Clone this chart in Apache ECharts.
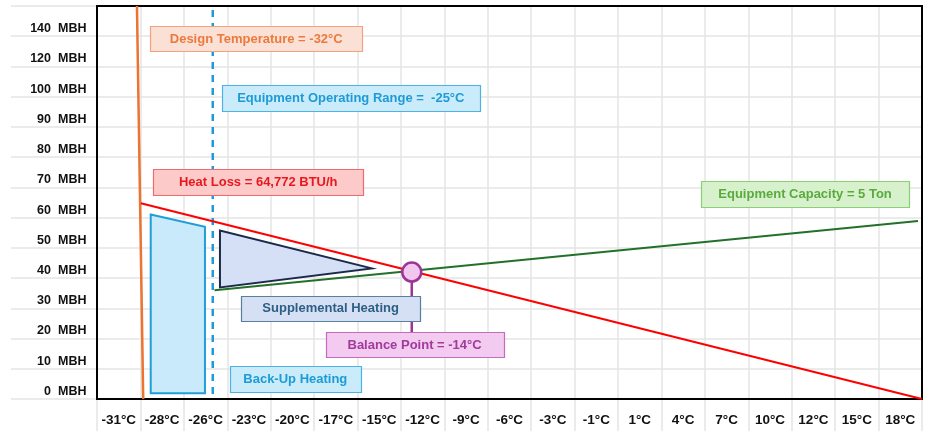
<!DOCTYPE html>
<html><head><meta charset="utf-8">
<script src="https://cdn.jsdelivr.net/npm/echarts@6/dist/echarts.min.js"></script>
<style>html,body{margin:0;padding:0;background:#fff}#c{width:930px;height:431px}</style>
</head><body><div id="c"></div>
<script>
// ---- data ----
const xLabels = ['-31°C','-28°C','-26°C','-23°C','-20°C','-17°C','-15°C','-12°C','-9°C','-6°C','-3°C','-1°C','1°C','4°C','7°C','10°C','12°C','15°C','18°C'];
const yTickNumbers = ['0','10','20','30','40','50','60','70','80','90','100','120','140'];
const yUnit = 'MBH';
const xRange = [-33.056, 19.722];   // temperature span (°C) of the 19 columns
const yRange = [0, 130];            // MBH, one row per 10
const designTempLine = [[-30.5, 130], [-30.1, 0]];
const operatingRangeLine = [[-25.65, 128.7], [-25.65, 0]];
const heatLossLine = [[-30.25, 64.77], [19.72, 0]];
const capacityLine = [[-25.54, 35.96], [19.47, 58.9]];
const backupArea = [[-29.62, 61.0], [-26.15, 57.0], [-26.15, 1.9], [-29.62, 1.9]];
const supplementalArea = [[-25.19, 55.7], [-25.19, 36.9], [-15.48, 43.2]];
const balancePoint = [-12.92, 42.0];
const balancePin = [[-12.92, 42.0], [-12.92, 22.1]];
const annotations = [
  {key: 'design', text: 'Design Temperature = -32°C', x: -22.87, y: 119.1},
  {key: 'range', text: 'Equipment Operating Range =  -25°C', x: -16.82, y: 99.6},
  {key: 'heatLoss', text: 'Heat Loss = 64,772 BTU/h', x: -22.74, y: 71.7},
  {key: 'capacity', text: 'Equipment Capacity = 5 Ton', x: 12.24, y: 67.9},
  {key: 'supplemental', text: 'Supplemental Heating', x: -18.11, y: 30.0},
  {key: 'balance', text: 'Balance Point = -14°C', x: -12.74, y: 17.9},
  {key: 'backup', text: 'Back-Up Heating', x: -20.37, y: 6.7}
];

// ---- styles ----
const FONT = 'Arial, "Liberation Sans", sans-serif';
const annStyles = {
  design: {w: 212, h: 25, bg: '#fbe0d6', border: '#f2a27e', color: '#ec7a3c'},
  range: {w: 258, h: 26, bg: '#c9ebfa', border: '#4db3e6', color: '#1e9bd7'},
  heatLoss: {w: 210, h: 26, bg: '#fdcaca', border: '#f06a6a', color: '#e8191e'},
  capacity: {w: 208, h: 26, bg: '#d7f1cd', border: '#8bce78', color: '#5aaa3e'},
  supplemental: {w: 179, h: 25, bg: '#d5e0f5', border: '#5a7f9c', color: '#2d5e84'},
  balance: {w: 178, h: 25, bg: '#f3caf0', border: '#c56bbc', color: '#a13a9b'},
  backup: {w: 131, h: 26, bg: '#c9ebfa', border: '#4db3e6', color: '#1e9bd7'}
};
const GRIDLINE = {show: true, lineStyle: {color: '#e5e5e5', width: 1.5}};
const YLABEL = {fontSize: 12.5, fontWeight: 'bold', color: '#111', fontFamily: FONT, verticalAlign: 'bottom', lineHeight: 15};

function polygonSeries(points, fill, stroke, z) {
  return {
    type: 'custom', xAxisIndex: 1, yAxisIndex: 0, z: z, silent: true,
    data: points,
    renderItem: (params, api) => {
      if (params.dataIndex !== 0) return null;
      return {type: 'polygon', shape: {points: points.map(p => api.coord(p))},
        style: {fill: fill, stroke: stroke, lineWidth: 2}};
    }
  };
}
function lineSeries(data, color, width, type, z) {
  return {type: 'line', xAxisIndex: 1, yAxisIndex: 0, data: data, symbol: 'none', z: z,
    lineStyle: {color: color, width: width, type: type || 'solid'}, silent: true};
}
function tickText(v, unit) {
  const i = Math.round(v / 10);
  if (i >= yTickNumbers.length) return '';
  return unit ? yUnit : yTickNumbers[i];
}

const chart = echarts.init(document.getElementById('c'), null, {renderer: 'canvas'});
chart.setOption({
  animation: false,
  backgroundColor: '#fff',
  grid: [
    {left: 97, right: 8, top: 6, bottom: 32, show: true, borderColor: '#000', borderWidth: 2, backgroundColor: 'transparent', z: 3},
    {left: 11, right: 8, top: 6, bottom: 32},
    {left: 97, right: 8, top: 6, bottom: 0}
  ],
  xAxis: [
    {type: 'category', gridIndex: 0, data: xLabels, boundaryGap: true,
      axisLine: {show: false}, axisTick: {show: false}, splitLine: {show: false},
      axisLabel: {interval: 0, margin: 14, color: '#111', fontWeight: 'bold', fontSize: 13.5, fontFamily: FONT}},
    {type: 'value', gridIndex: 0, min: xRange[0], max: xRange[1], show: false},
    {type: 'value', gridIndex: 1, show: false, min: 0, max: 1},
    {type: 'category', gridIndex: 2, data: xLabels, boundaryGap: true,
      axisLine: {show: false}, axisTick: {show: false}, axisLabel: {show: false},
      splitLine: Object.assign({interval: 0}, GRIDLINE)}
  ],
  yAxis: [
    {type: 'value', gridIndex: 0, min: yRange[0], max: yRange[1], interval: 10, position: 'left',
      axisLine: {show: false}, axisTick: {show: false}, splitLine: {show: false},
      axisLabel: Object.assign({margin: 46, align: 'right', formatter: v => tickText(v, false)}, YLABEL)},
    {type: 'value', gridIndex: 0, min: yRange[0], max: yRange[1], interval: 10, position: 'left',
      axisLine: {show: false}, axisTick: {show: false}, splitLine: {show: false},
      axisLabel: Object.assign({margin: 39, align: 'left', formatter: v => tickText(v, true)}, YLABEL)},
    {type: 'value', gridIndex: 1, min: yRange[0], max: yRange[1], interval: 10,
      axisLine: {show: false}, axisTick: {show: false}, axisLabel: {show: false}, splitLine: GRIDLINE},
    {type: 'value', gridIndex: 2, show: false, min: 0, max: 1}
  ],
  series: [
    polygonSeries(backupArea, '#c8eafa', '#1f9ed8', 4),
    polygonSeries(supplementalArea, '#d5dff5', '#1b2a48', 4),
    lineSeries(designTempLine, '#ec7330', 2.5, 'solid', 5),
    lineSeries(operatingRangeLine, '#1e9ad6', 2.5, [7, 6], 5),
    lineSeries(heatLossLine, '#ff0000', 2, 'solid', 6),
    lineSeries(capacityLine, '#23702a', 2, 'solid', 6),
    lineSeries(balancePin, '#9c3596', 2.5, 'solid', 6),
    {type: 'scatter', xAxisIndex: 1, yAxisIndex: 0, data: [balancePoint], symbol: 'circle', symbolSize: 19, z: 7, silent: true,
      itemStyle: {color: '#f1c6ef', borderColor: '#9c3596', borderWidth: 2.5, opacity: 1}},
    {type: 'custom', xAxisIndex: 1, yAxisIndex: 0, z: 8, silent: true,
      data: annotations.map(a => [a.x, a.y]),
      renderItem: (params, api) => {
        const a = annotations[params.dataIndex];
        const st = annStyles[a.key];
        const c = api.coord([api.value(0), api.value(1)]);
        return {type: 'group', children: [
          {type: 'rect', shape: {x: Math.round(c[0] - st.w / 2) + 0.5, y: Math.round(c[1] - st.h / 2) + 0.5, width: st.w, height: st.h},
            style: {fill: st.bg, stroke: st.border, lineWidth: 1.2}},
          {type: 'text', x: c[0], y: c[1] + 0.5,
            style: {text: a.text, fill: st.color, font: 'bold 13px ' + FONT, align: 'center', verticalAlign: 'middle'}}
        ]};
      }}
  ]
});
</script>
</body></html>
